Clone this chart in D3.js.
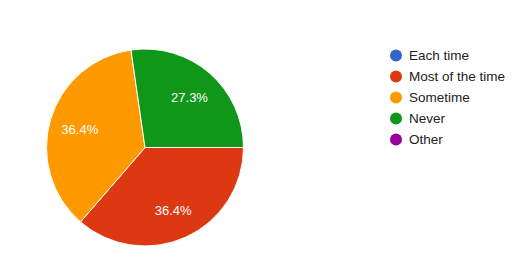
<!DOCTYPE html>
<html>
<head>
<meta charset="utf-8">
<script src="https://cdn.jsdelivr.net/npm/d3@7"></script>
<style>
  body { margin: 0; background: #fff; }
  svg text { font-family: Arial, "Liberation Sans", sans-serif; }
</style>
</head>
<body>
<div id="chart"></div>
<script>
// answers and counts (out of 11 responses)
const categories = ["Each time", "Most of the time", "Sometime", "Never", "Other"];
const counts = [0, 4, 4, 3, 0];
const colors = ["#3366cc", "#dc3912", "#ff9900", "#109618", "#990099"];

(function () {
    var width = 521, height = 277;
    var cx = 145, cy = 147.5, radius = 98.5;

    var svg = d3.select("#chart")
        .append("svg")
        .attr("width", width)
        .attr("height", height);

    var total = d3.sum(counts);
    var color = d3.scaleOrdinal().domain(categories).range(colors);

    // google forms pie starts at 3 o'clock here
    var pie = d3.pie()
        .sort(null)
        .value(function (d) { return d.value; })
        .startAngle(Math.PI / 2)
        .endAngle(Math.PI / 2 + 2 * Math.PI);

    var data = categories.map(function (c, i) { return { name: c, value: counts[i] }; });
    var arcs = pie(data).filter(function (d) { return d.data.value > 0; });

    var arc = d3.arc().innerRadius(0).outerRadius(radius);
    var labelArc = d3.arc().innerRadius(radius * 0.69).outerRadius(radius * 0.69);

    var g = svg.append("g")
        .attr("transform", "translate(" + cx + "," + cy + ")");

    g.selectAll(".slice")
        .data(arcs)
        .enter().append("path")
        .attr("class", "slice")
        .attr("d", arc)
        .attr("fill", function (d) { return color(d.data.name); })
        .attr("stroke", "#fff")
        .attr("stroke-width", 1);

    g.selectAll(".label")
        .data(arcs)
        .enter().append("text")
        .attr("class", "label")
        .attr("transform", function (d) { return "translate(" + labelArc.centroid(d) + ")"; })
        .attr("text-anchor", "middle")
        .attr("dy", "0.45em")
        .attr("fill", "#fff")
        .attr("font-size", 13)
        .text(function (d) { return (d.data.value / total * 100).toFixed(1) + "%"; });

    // legend
    var y = d3.scalePoint().domain(categories).range([55.5, 139.5]);

    var legend = svg.append("g").selectAll(".legend")
        .data(categories)
        .enter().append("g")
        .attr("class", "legend")
        .attr("transform", function (d) { return "translate(396," + y(d) + ")"; });

    legend.append("circle")
        .attr("r", 6)
        .attr("fill", function (d) { return color(d); });

    legend.append("text")
        .attr("x", 13)
        .attr("dy", "0.36em")
        .attr("font-size", 13.5)
        .attr("fill", "#222")
        .text(function (d) { return d; });
})()
</script>
</body>
</html>
